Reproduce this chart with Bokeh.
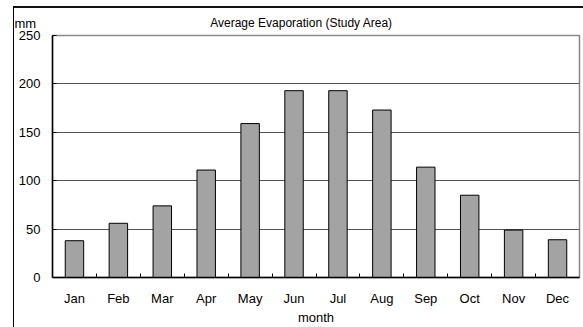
import numpy as np
from bokeh.plotting import figure
from bokeh.models import (Range1d, FixedTicker, Label,
                          CustomJSTickFormatter, ColumnDataSource)
from bokeh.embed import file_html
from bokeh.resources import INLINE

# Monthly average evaporation (mm)
months = ["Jan", "Feb", "Mar", "Apr", "May", "Jun",
          "Jul", "Aug", "Sep", "Oct", "Nov", "Dec"]
evaporation = [38, 56, 74, 111, 159, 193, 193, 173, 114, 85, 49, 39]
y_ticks = [0, 50, 100, 150, 200, 250]

FONT = "Liberation Sans"
W, H = 583, 327

# bar centres sit in the middle of each month slot; slot edges carry the ticks
centers = [i + 0.5 for i in range(len(months))]
edges = list(range(1, len(months)))

src = ColumnDataSource(dict(x=centers, top=evaporation, month=months))

p = figure(width=W, height=H, output_backend="svg", toolbar_location=None,
           x_range=Range1d(0, len(months)), y_range=Range1d(0, 250),
           min_border_left=52, min_border_right=4,
           min_border_top=35, min_border_bottom=49)
p.background_fill_color = "white"
p.border_fill_color = None
# outer chart frame, open towards the right and bottom edges of the page
p.styles = {"background": ("linear-gradient(#000,#000) 13px 6px / 1px 100% no-repeat, "
                           "linear-gradient(#111,#111) 13px 6px / 100% 2px no-repeat, "
                           "#ffffff")}
p.outline_line_color = "#888888"
p.outline_line_width = 1.5

p.vbar(x="x", top="top", width=0.42, bottom=0, source=src,
       fill_color="#a3a3a3", line_color="black", line_width=1)

# x axis: month names at slot centres, short inward ticks between months
xa = p.xaxis[0]
xa.ticker = FixedTicker(ticks=centers, minor_ticks=edges)
xa.formatter = CustomJSTickFormatter(args=dict(names=months),
                                     code="return names[Math.floor(tick)]")
xa.major_tick_line_color = None
xa.major_tick_in = 0
xa.major_tick_out = 0
xa.minor_tick_in = 4
xa.minor_tick_out = 0
xa.minor_tick_line_color = "black"
xa.axis_line_color = "black"
xa.axis_line_width = 1.5
xa.major_label_standoff = 13
xa.major_label_text_font = FONT
xa.major_label_text_font_size = "13px"
xa.major_label_text_color = "black"
xa.axis_label = "month"
xa.axis_label_standoff = 1
xa.axis_label_text_font = FONT
xa.axis_label_text_font_size = "13px"
xa.axis_label_text_font_style = "normal"
xa.axis_label_text_color = "black"

# y axis
ya = p.yaxis[0]
ya.ticker = FixedTicker(ticks=y_ticks)
ya.major_tick_in = 4
ya.major_tick_out = 0
ya.minor_tick_line_color = None
ya.axis_line_color = "black"
ya.axis_line_width = 1.5
ya.major_label_standoff = 12
ya.major_label_text_font = FONT
ya.major_label_text_font_size = "13px"
ya.major_label_text_color = "black"

p.xgrid.visible = False
p.ygrid.ticker = FixedTicker(ticks=y_ticks)
p.ygrid.grid_line_color = "#555555"
p.ygrid.grid_line_width = 1.2

# unit label and chart title in the band above the frame (canvas coordinates)
def band_label(x, y, text, size, align):
    return Label(x=x, y=y, x_units="canvas", y_units="canvas", text=text,
                 text_font=FONT, text_font_size=size, text_color="black",
                 text_align=align, text_baseline="alphabetic")

p.add_layout(band_label(14, 23, "mm", "13px", "left"), "above")
p.add_layout(band_label(301, 22, "Average Evaporation (Study Area)", "12px", "center"), "above")

open("out.html", "w").write(file_html(p, INLINE))
